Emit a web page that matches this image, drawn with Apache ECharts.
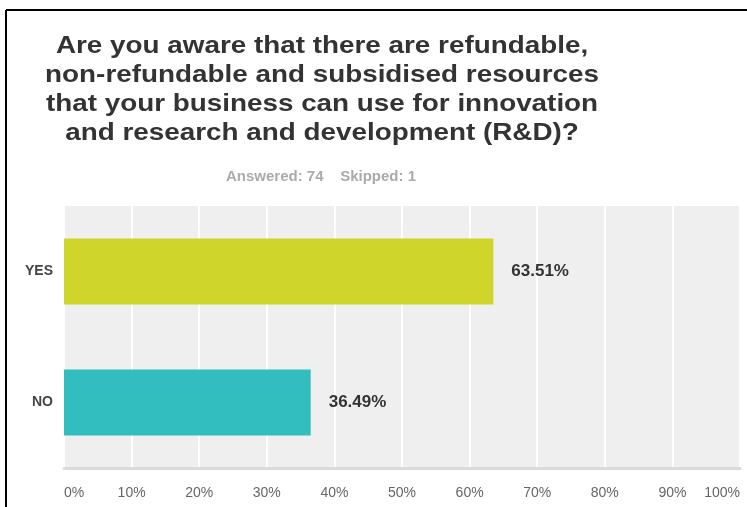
<!DOCTYPE html>
<html>
<head>
<meta charset="utf-8">
<script src="https://cdn.jsdelivr.net/npm/echarts@6/dist/echarts.min.js"></script>
<style>
html,body{margin:0;padding:0;background:#fff;}
#chart{width:747px;height:507px;}
</style>
</head>
<body>
<div id="chart"></div>
<script>
const titleLines = [
  'Are you aware that there are refundable,',
  'non-refundable and subsidised resources',
  'that your business can use for innovation',
  'and research and development (R&D)?'
];
const subtitleText = 'Answered: 74    Skipped: 1';
const categories = ['YES', 'NO'];
const values = [63.51, 36.49];
const barColors = ['#cfd52a', '#32bdbe'];
const tickValues = [0, 10, 20, 30, 40, 50, 60, 70, 80, 90, 100];

const chart = echarts.init(document.getElementById('chart'), null, {renderer: 'canvas'});
const FONT = '"Liberation Sans", Arial, Helvetica, sans-serif';

const titleGraphics = titleLines.map(function (line, i) {
  return {
    type: 'text', x: 322, y: 46 + i * 29, scaleX: 1.16,
    style: {
      text: line, fill: '#333333', align: 'center', verticalAlign: 'middle',
      font: 'bold 24px ' + FONT
    }
  };
});

chart.setOption({
  animation: false,
  backgroundColor: '#ffffff',
  title: {
    text: subtitleText,
    left: 316, top: 164, textAlign: 'center',
    textStyle: {fontFamily: FONT, fontSize: 15, fontWeight: 'bold', color: '#aaaaaa'}
  },
  graphic: titleGraphics.concat([
    {type: 'line', shape: {x1: 6, y1: 10, x2: 747, y2: 10}, style: {stroke: '#000', lineWidth: 2}},
    {type: 'line', shape: {x1: 6, y1: 10, x2: 6, y2: 507}, style: {stroke: '#000', lineWidth: 2}}
  ]),
  grid: {
    left: 64, right: 7, top: 206, bottom: 39,
    show: true, backgroundColor: '#efefef', borderWidth: 0
  },
  xAxis: {
    type: 'value', min: 0, max: 100, interval: 10,
    axisLine: {show: true, lineStyle: {color: '#dadada', width: 3}},
    axisTick: {show: false},
    splitLine: {show: true, lineStyle: {color: '#ffffff', width: 2}},
    axisLabel: {
      formatter: function (v) { return tickValues.indexOf(v) >= 0 ? v + '%' : ''; },
      color: '#666666', fontFamily: FONT, fontSize: 14, margin: 18,
      alignMinLabel: 'left', alignMaxLabel: 'right'
    }
  },
  yAxis: {
    type: 'category', data: categories, inverse: true,
    axisLine: {show: false}, axisTick: {show: false},
    axisLabel: {color: '#444444', fontFamily: FONT, fontSize: 14, fontWeight: 'bold', margin: 11}
  },
  series: [{
    type: 'bar',
    barWidth: 66,
    data: values.map(function (v, i) { return {value: v, itemStyle: {color: barColors[i]}}; }),
    label: {
      show: true, position: 'right', distance: 18,
      formatter: function (p) { return p.value.toFixed(2) + '%'; },
      color: '#333333', fontFamily: FONT, fontSize: 17, fontWeight: 'bold'
    }
  }]
});
</script>
</body>
</html>
